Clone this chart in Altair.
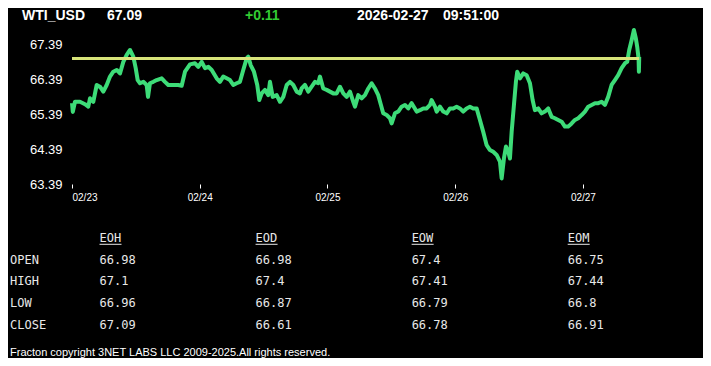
import altair as alt
import pandas as pd

# ---- price series (hours since 2026-02-23 00:00, price) ----
hours = [0.00, 0.15, 0.56, 1.50, 2.44, 3.06, 3.38, 4.00, 4.64, 5.26, 5.88, 6.52, 7.14, 7.76,
         8.40, 9.02, 9.64, 10.28, 10.90, 11.52, 11.97, 12.34, 12.78, 13.40, 14.03, 14.28,
         14.65, 15.27, 15.91, 16.85, 17.47, 18.09, 19.03, 19.97, 20.61, 21.23, 22.17, 23.11,
         23.73, 24.37, 24.99, 25.61, 26.25, 27.18, 27.80, 28.42, 29.06, 29.68, 30.30, 30.94,
         31.56, 32.18, 32.82, 33.12, 33.57, 34.19, 34.81, 35.19, 35.64, 36.26, 36.88, 37.20,
         37.71, 38.46, 39.08, 39.70, 40.34, 40.96, 41.58, 42.22, 42.83, 43.15, 43.77, 44.39,
         45.03, 45.65, 46.27, 46.59, 47.21, 47.85, 48.47, 49.09, 49.73, 50.35, 50.97, 51.61,
         52.23, 52.85, 53.17, 53.79, 54.43, 55.05, 55.67, 56.30, 56.92, 57.54, 58.05, 58.48,
         59.12, 59.74, 60.06, 60.68, 61.30, 61.94, 62.56, 63.18, 63.82, 64.76, 65.38, 66.00,
         66.64, 67.26, 67.58, 68.20, 68.52, 69.14, 69.76, 70.40, 71.02, 71.63, 72.27, 72.89,
         73.51, 74.15, 74.77, 75.39, 76.03, 76.65, 77.27, 77.91, 78.53, 79.15, 79.79, 80.41,
         80.73, 81.16, 81.54, 81.97, 82.29, 82.61, 83.04, 83.41, 83.66, 84.17, 84.79, 85.43,
         86.05, 86.55, 86.98, 87.60, 88.24, 88.86, 89.48, 90.12, 90.74, 91.36, 92.00, 92.62,
         93.24, 93.88, 94.50, 95.12, 95.76, 96.38, 97.00, 97.64, 98.26, 98.88, 99.51, 100.13,
         100.75, 101.39, 102.01, 102.63, 103.27, 103.89, 104.32, 104.70, 105.15, 105.58,
         105.95, 106.20, 106.46, 106.52, 106.58]
prices = [65.70, 65.45, 65.74, 65.74, 65.67, 65.60, 65.84, 65.74, 66.22, 66.17, 66.03, 66.22,
          66.46, 66.60, 66.65, 66.55, 66.88, 67.08, 67.22, 67.03, 66.70, 66.36, 66.27, 66.31,
          66.22, 65.88, 66.27, 66.31, 66.36, 66.41, 66.31, 66.22, 66.22, 66.22, 66.20, 66.60,
          66.81, 66.84, 66.74, 66.88, 66.70, 66.74, 66.65, 66.41, 66.31, 66.46, 66.41, 66.36,
          66.22, 66.27, 66.31, 66.65, 66.98, 67.03, 66.79, 66.60, 66.22, 65.79, 65.98, 66.08,
          65.93, 66.31, 65.88, 65.93, 65.74, 65.88, 66.22, 66.31, 66.22, 66.03, 65.98, 66.12,
          66.22, 66.03, 66.17, 66.31, 66.27, 66.46, 66.12, 66.08, 66.03, 65.98, 65.98, 66.17,
          65.98, 65.88, 66.03, 65.74, 65.60, 65.93, 65.84, 65.93, 66.12, 66.27, 66.12, 65.93,
          65.65, 65.41, 65.36, 65.27, 65.12, 65.41, 65.46, 65.60, 65.65, 65.55, 65.70, 65.46,
          65.50, 65.55, 65.55, 65.65, 65.79, 65.60, 65.46, 65.60, 65.46, 65.41, 65.55, 65.55,
          65.60, 65.55, 65.46, 65.55, 65.60, 65.55, 65.55, 65.22, 64.88, 64.50, 64.36, 64.31,
          64.22, 64.03, 63.55, 64.12, 64.46, 64.31, 64.12, 64.88, 65.65, 66.31, 66.60, 66.41,
          66.55, 66.50, 66.27, 65.79, 65.50, 65.55, 65.41, 65.46, 65.55, 65.31, 65.27, 65.22,
          65.17, 65.03, 65.03, 65.12, 65.22, 65.27, 65.36, 65.46, 65.60, 65.65, 65.70, 65.70,
          65.74, 65.65, 65.88, 66.22, 66.36, 66.50, 66.70, 66.84, 66.88, 67.22, 67.50, 67.79,
          67.55, 67.31, 66.98, 66.60, 67.02]
prev_close = 66.98
y_ticks = [63.39, 64.39, 65.39, 66.39, 67.39]

# ---- header ----
symbol = "WTI_USD"
last_price = "67.09"
change = "+0.11"
date_text = "2026-02-27"
time_text = "09:51:00"

# ---- table ----
columns = ["EOH", "EOD", "EOW", "EOM"]
row_names = ["OPEN", "HIGH", "LOW", "CLOSE"]
open_vals = [66.98, 66.98, 67.4, 66.75]
high_vals = [67.1, 67.4, 67.41, 67.44]
low_vals = [66.96, 66.87, 66.79, 66.8]
close_vals = [67.09, 66.61, 66.78, 66.91]

footer = "Fracton copyright 3NET LABS LLC 2009-2025.All rights reserved."

# ---------------------------------------------------------------------
price_df = pd.DataFrame({
    "time": pd.Timestamp("2026-02-23") + pd.to_timedelta(hours, unit="h"),
    "price": prices,
})
rule_df = pd.DataFrame({
    "start": [price_df["time"].iloc[0]],
    "end": [price_df["time"].iloc[-1]],
    "level": [prev_close],
})

x_dom = [alt.DateTime(year=2026, month=2, date=23),
         alt.DateTime(year=2026, month=2, date=27, hours=22)]

line = alt.Chart(price_df).mark_line(
    color="#3ddc78", strokeWidth=4, strokeJoin="round"
).encode(
    x=alt.X("time:T", scale=alt.Scale(domain=x_dom),
            axis=alt.Axis(format="%m/%d",
                          tickCount=alt.TimeIntervalStep(interval="day", step=1),
                          labelColor="white", labelFontSize=10, labelFont="Liberation Sans",
                          tickColor="white", tickSize=4, domain=False, grid=False,
                          labelPadding=4, title=None)),
    y=alt.Y("price:Q", scale=alt.Scale(domain=[63.39, 68.02], nice=False, zero=False),
            axis=alt.Axis(values=y_ticks, format=".2f", labelColor="white",
                          labelFontSize=13, labelFont="Liberation Sans", ticks=False,
                          domain=False, grid=False, labelPadding=10, title=None)),
)
rule = alt.Chart(rule_df).mark_rule(color="#d8e47a", strokeWidth=3).encode(
    x="start:T", x2="end:T", y="level:Q"
)
price_layer = alt.layer(line, rule)

# table
recs = []
for r, vals in zip(row_names, [open_vals, high_vals, low_vals, close_vals]):
    for c, v in zip(columns, vals):
        recs.append({"row": r, "col": c, "val": str(v)})
table_df = pd.DataFrame(recs)
hdr_df = pd.DataFrame({"row": ["hdr"] * len(columns), "col": columns})
lab_df = pd.DataFrame({"row": row_names})

xs = alt.X("col:N", scale=alt.Scale(type="point", domain=columns, range=[27.5, 495.7],
                                    padding=0), axis=None)
ys = alt.Y("row:N", scale=alt.Scale(type="point", domain=["hdr"] + row_names,
                                    range=[216.3, 302.5], padding=0), axis=None)
tfont = dict(font="DejaVu Sans Mono", fontSize=12, color="#e8e8e8", align="left",
             baseline="middle")

t_vals = alt.Chart(table_df).mark_text(**tfont).encode(x=xs, y=ys, text="val:N")
t_hdr = alt.Chart(hdr_df).mark_text(**tfont).encode(x=xs, y=ys, text="col:N")
t_ul = alt.Chart(hdr_df).mark_rule(color="#e8e8e8", strokeWidth=1, x2Offset=22,
                                   yOffset=6).encode(x=xs, x2="col:N", y=ys)
t_lab = alt.Chart(lab_df).mark_text(**tfont).encode(x=alt.value(-62), y=ys, text="row:N")
table_layer = alt.layer(t_vals, t_hdr, t_ul, t_lab)


def label(txt, x, y, color="white", size=14, bold=True, font="Liberation Sans"):
    return alt.Chart(pd.DataFrame({"t": [txt]})).mark_text(
        font=font, fontSize=size, fontWeight="bold" if bold else "normal",
        color=color, align="left", baseline="middle"
    ).encode(text="t:N", x=alt.value(x), y=alt.value(y))


texts = [
    label(symbol, -50, -6),
    label(last_price, 35, -6),
    label(change, 173, -6, color="#33cc33"),
    label(date_text, 285, -6),
    label(time_text, 371, -6),
    label(footer, -62, 331, size=11, bold=False),
]

chart = alt.layer(price_layer, table_layer, *texts).resolve_scale(
    x="independent", y="independent"
).properties(
    width=628, height=162,
    autosize=alt.AutoSizeParams(type="none"),
    padding={"left": 64, "top": 14, "right": 3, "bottom": 174},
    background="black",
).configure_view(stroke=None)

chart.save("out.html", embed_options={"renderer": "svg", "actions": False})
